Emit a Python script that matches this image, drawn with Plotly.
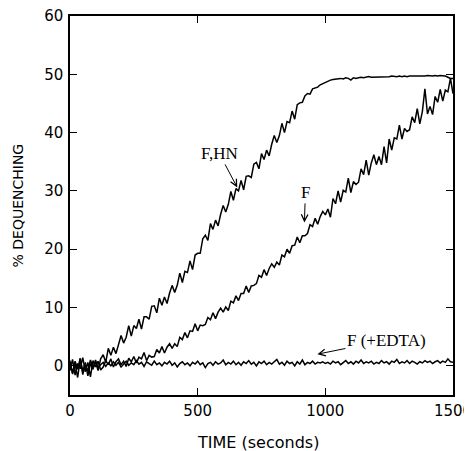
import plotly.graph_objects as go

# Fluorescence dequenching vs time, three traces
# (one reading every 10 s, 0-1500 s).
time_s = list(range(0, 1501, 10))

f_hn = [
    0.5, -1.2, 0.8, -0.6, 1.3, -1.5, 0.2, -0.9, 1.0, -0.3, 0.7, -0.8, 1.2,
    1.9, 0.6, 3.0, 1.8, 3.2, 2.1, 3.9, 5.2, 3.9, 4.9, 6.9, 5.1, 6.9, 6.4, 8.0,
    6.3, 8.4, 8.4, 8.0, 10.2, 10.3, 9.1, 11.6, 10.4, 11.8, 10.7, 12.5, 13.8, 12.6,
    13.8, 15.9, 14.3, 16.2, 16.0, 18.0, 16.5, 19.0, 19.3, 19.3, 21.8, 22.4, 21.5,
    24.4, 23.4, 25.0, 24.0, 26.0, 27.5, 26.4, 27.7, 29.9, 28.4, 30.4, 30.0, 31.8,
    30.2, 32.5, 32.6, 32.3, 34.6, 34.9, 33.8, 36.4, 35.4, 37.0, 36.0, 38.0, 39.5,
    38.3, 39.5, 41.6, 40.0, 41.9, 41.7, 43.7, 42.3, 44.8, 45.1, 45.2, 46.3, 46.7,
    46.6, 47.5, 47.6, 47.8, 48.2, 48.4, 48.6,
    48.9, 49.0, 49.1, 49.2, 49.2, 49.3, 49.2, 49.4, 49.3, 49.0,
    49.4, 49.3, 49.4, 49.5, 49.4, 49.5, 49.6, 49.5, 49.5, 49.6,
    49.5, 49.6, 49.6, 49.5, 49.6, 49.7, 49.6, 49.6, 49.7, 49.6,
    49.7, 49.6, 49.7, 49.7, 49.6, 49.7, 49.7, 49.6, 49.7, 49.8,
    49.7, 49.7, 49.8, 49.7, 49.8, 49.8, 49.7, 49.5, 49.3, 49.3,
]

f_only = [
    -0.8, 1.1, -1.6, 0.4, -0.5, 1.4, -1.0, 0.6, -1.9, 0.9, -0.2, 0.8, -0.7,
    -0.2, 0.9, 0.2, 1.2, -0.2, 0.7, 1.2, 0.2, 0.8, -0.1, 1.3, 0.7, 1.6, 0.5, 1.5,
    1.2, 2.3, 0.9, 1.8, 1.5, 1.6, 2.8, 2.2, 3.3, 2.2, 3.2, 3.8, 3.0, 3.8, 3.3,
    4.9, 4.5, 5.7, 4.8, 6.0, 5.9, 7.2, 6.0, 7.0, 6.9, 7.1, 8.3, 7.9, 9.1, 8.1,
    9.2, 9.9, 9.2, 10.1, 9.5, 11.1, 10.8, 12.0, 11.2, 12.4, 12.4, 13.7, 12.6,
    13.7, 13.8, 14.1, 15.5, 15.2, 16.5, 15.5, 16.7, 17.5, 16.9, 17.8, 17.3, 19.0,
    18.7, 20.0, 19.3, 20.6, 20.7, 22.1, 21.1, 22.3, 22.3, 22.7, 24.2, 23.9, 25.3,
    24.3, 25.6, 26.5, 25.9,
    26.9, 25.5, 28.7, 27.8, 30.0, 28.1, 30.1, 29.8, 32.2, 29.7,
    31.6, 31.1, 31.5, 33.8, 32.8, 35.3, 32.7, 34.8, 36.2, 34.5,
    35.9, 34.5, 37.6, 34.8, 38.9, 37.0, 39.1, 38.9, 41.3, 38.9,
    40.7, 40.2, 40.5, 42.7, 41.7, 44.1, 41.5, 43.6, 47.5, 43.2,
    44.5, 43.1, 46.2, 45.2, 47.4, 45.4, 47.3, 47.0, 49.3, 46.7,
]

f_edta = [
    0.9, -1.4, 0.3, -2.0, 1.2, -0.9, 0.6, -1.7, 0.4, -0.6, 1.0, -0.4, 0.2,
    0.6, -0.1, 0.5, 0.0, 0.7, 0.1, 0.6, -0.2, 0.4, 0.8, 0.1, 0.5, 0.2, 0.9, 0.3,
    0.6, -0.1, 0.7, 0.4, 0.1, 0.8, 0.2, 0.5, 0.0, 0.6, 0.3, 0.8, 0.1, 0.5, -0.2,
    0.4, 0.7, 0.2, 0.5, 0.0, 0.6, 0.3, 0.8, 0.2, 0.5, -0.3, 0.4, 0.6, 0.1, 0.7,
    0.3, 0.5, 1.0, 0.2, 0.6, 0.3, 0.8, 0.2, 0.6, 0.1, 0.7, 0.4, 0.9, 0.3, 0.6,
    0.0, 0.7, 0.4, 0.8, 0.2, 0.6, 0.3, 0.7, 1.1, 0.3, 0.6, 0.1, 0.8, 0.4, 0.6,
    0.0, 0.7, 0.3, 1.0, 0.2, 0.6, 0.4, 0.8, 0.3, 0.6, 0.5, 0.7, 0.4, 0.6, 0.3,
    0.8, 0.5, 0.7, 0.2, 0.6, 0.9, 0.4, 0.7, 0.3, 0.8, 0.5, 1.0, 0.4, 0.7, 0.5,
    0.8, 0.3, 0.6, 0.4, 0.9, 0.5, 0.7, 0.3, 0.8, 0.6, 1.1, 0.4, 0.7, 0.5, 0.9,
    0.4, 0.8, 0.6, 0.3, 0.7, 0.5, 0.9, 0.6, 0.8, 0.4, 0.7, 0.9, 0.5, 0.8, 0.6,
    1.2, 0.7, 0.6,
]

for series in (f_hn, f_only, f_edta):
    assert len(series) == len(time_s), len(series)

# labels with arrows: (text, arrow tip x, tip y, text offset px)
labels = [
    ("F,HN", 655, 30.6, -18, -34),
    ("F", 918, 24.6, 1, -30),
    ("F (+EDTA)", 969, 2.0, 69, -14),
]

fig = go.Figure()
for series in (f_hn, f_only, f_edta):
    fig.add_trace(go.Scatter(x=time_s, y=series, mode="lines",
                             line=dict(color="black", width=1.5), showlegend=False))

for text, x, y, ax, ay in labels:
    fig.add_annotation(x=x, y=y, text=text, ax=ax, ay=ay, showarrow=True,
                       arrowhead=5, arrowsize=1.3, arrowwidth=1, arrowcolor="black",
                       font=dict(family="Liberation Serif", size=17, color="black"))

# axis titles placed as paper annotations for exact positions
fig.add_annotation(text="TIME (seconds)", xref="paper", yref="paper", x=0.49, y=0,
                   xanchor="center", yanchor="middle", yshift=-47, showarrow=False,
                   font=dict(family="DejaVu Sans", size=16, color="black"))
fig.add_annotation(text="% DEQUENCHING", xref="paper", yref="paper", x=0, y=0.5,
                   xanchor="center", yanchor="middle", xshift=-53, textangle=-90,
                   showarrow=False,
                   font=dict(family="DejaVu Sans", size=14, color="black"))

axis_style = dict(showline=True, linecolor="black", linewidth=1.5, mirror="ticks",
                  ticks="inside", ticklen=7, tickwidth=1.3, tickcolor="black",
                  showgrid=False, zeroline=False, automargin=False,
                  ticklabeloverflow="allow",
                  tickfont=dict(family="DejaVu Sans", size=15, color="black"))

# the page body adds an 8 px offset, so the figure is drawn 8 px smaller
fig.update_layout(
    width=464, height=443,
    margin=dict(l=62, r=19, t=8, b=56),
    paper_bgcolor="white", plot_bgcolor="white",
    xaxis=dict(range=[0, 1500], tickvals=[0, 500, 1000, 1500], ticklabelstandoff=1,
               **axis_style),
    yaxis=dict(range=[-5, 60], tickvals=[0, 10, 20, 30, 40, 50, 60], ticklabelstandoff=2,
               **axis_style),
)

fig.write_html("out.html")
